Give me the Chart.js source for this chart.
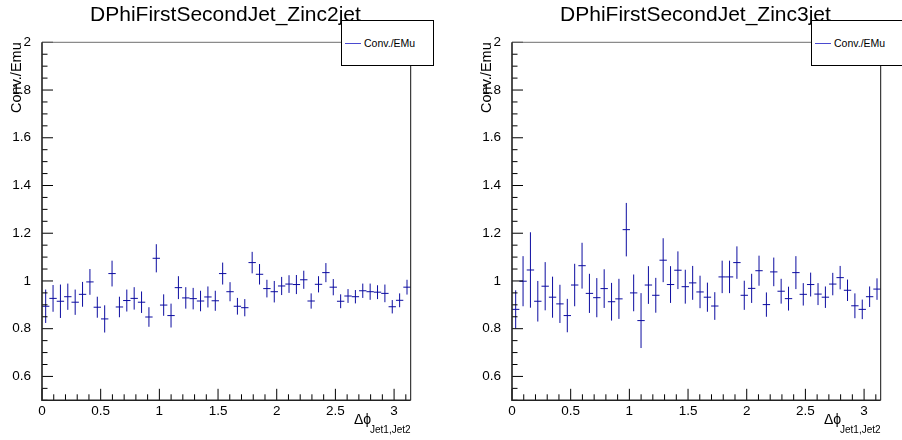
<!DOCTYPE html>
<html>
<head>
<meta charset="utf-8">
<script src="https://cdn.jsdelivr.net/npm/chart.js@4.4.1/dist/chart.umd.min.js"></script>
<style>
  html, body { margin: 0; padding: 0; background: #fff; }
  body { width: 902px; height: 440px; position: relative; overflow: hidden;
         font-family: "Liberation Sans", Arial, Helvetica, sans-serif; color: #000; }
  .pad { position: absolute; top: 0; width: 451px; height: 440px; }
  .pad canvas { position: absolute; left: 0; top: 0; }
  .title { position: absolute; left: 0; top: 3px; width: 451px; text-align: center;
           font-size: 21px; line-height: 21px; white-space: nowrap; }
  .legend { position: absolute; left: 341px; top: 20px; width: 91px; height: 44px;
            border: 1px solid #000; background: #fff; }
  .legend .swatch { position: absolute; left: 3px; top: 22px; width: 16px; height: 1px; background: #4a4ad0; }
  .legend .label { position: absolute; left: 22px; top: 16px; font-size: 10.5px; line-height: 12px;
                   white-space: nowrap; color: #000; }
  .xtitle-main { position: absolute; left: 354px; top: 412px; font-size: 14px; line-height: 15px; }
  .xtitle-sub { position: absolute; left: 370px; top: 424.5px; font-size: 10px; line-height: 10px; white-space: nowrap; }
</style>
</head>
<body>
<div class="pad" style="left:0">
  <canvas id="chartZinc2" width="451" height="440"></canvas>
  <div class="legend"><span class="swatch"></span><span class="label">Conv./EMu</span></div>
  <div class="title">DPhiFirstSecondJet_Zinc2jet</div>
  <div class="xtitle-main">Δϕ</div>
  <div class="xtitle-sub">Jet1,Jet2</div>
</div>
<div class="pad" style="left:470px">
  <canvas id="chartZinc3" width="451" height="440"></canvas>
  <div class="legend"><span class="swatch"></span><span class="label">Conv./EMu</span></div>
  <div class="title">DPhiFirstSecondJet_Zinc3jet</div>
  <div class="xtitle-main">Δϕ</div>
  <div class="xtitle-sub">Jet1,Jet2</div>
</div>
<script>
// 50 bins over [0, pi]
const nBins = 50;
const phiMax = Math.PI;

const xTickLabels = [0, 0.5, 1, 1.5, 2, 2.5, 3];
const yTickLabels = [0.6, 0.8, 1, 1.2, 1.4, 1.6, 1.8, 2];

// Zinc2jet ratio Conv./EMu per bin, and its error
const zinc2Values = [0.894, 0.927, 0.915, 0.934, 0.911, 0.944, 0.996, 0.890, 0.841, 1.031,
                     0.891, 0.918, 0.927, 0.911, 0.849, 1.095, 0.899, 0.855, 0.972, 0.929,
                     0.926, 0.916, 0.933, 0.917, 1.031, 0.955, 0.894, 0.888, 1.077, 1.028,
                     0.968, 0.955, 0.979, 0.987, 0.985, 1.005, 0.916, 0.986, 1.035, 0.974,
                     0.915, 0.937, 0.934, 0.959, 0.955, 0.953, 0.948, 0.892, 0.919, 0.974];
const zinc2Errors = [0.070, 0.056, 0.070, 0.055, 0.053, 0.052, 0.054, 0.044, 0.057, 0.054,
                     0.043, 0.046, 0.047, 0.045, 0.041, 0.059, 0.045, 0.050, 0.048, 0.045,
                     0.045, 0.043, 0.044, 0.042, 0.046, 0.040, 0.035, 0.036, 0.045, 0.043,
                     0.037, 0.045, 0.038, 0.037, 0.040, 0.038, 0.032, 0.034, 0.040, 0.034,
                     0.029, 0.029, 0.028, 0.030, 0.034, 0.029, 0.037, 0.028, 0.029, 0.031];

// Zinc3jet
const zinc3Values = [0.881, 0.999, 1.046, 0.915, 0.978, 0.932, 0.904, 0.855, 0.983, 1.064,
                     0.948, 0.930, 0.968, 0.913, 0.925, 1.215, 0.950, 0.834, 0.983, 0.940,
                     1.087, 0.985, 1.045, 0.976, 0.992, 0.954, 0.932, 0.895, 1.017, 1.017,
                     1.077, 0.940, 0.969, 1.043, 0.901, 1.038, 0.957, 0.926, 1.035, 0.944,
                     0.985, 0.945, 0.932, 0.987, 1.014, 0.961, 0.896, 0.881, 0.934, 0.966];
const zinc3Errors = [0.080, 0.105, 0.158, 0.085, 0.101, 0.086, 0.080, 0.070, 0.089, 0.096,
                     0.082, 0.082, 0.081, 0.079, 0.084, 0.112, 0.077, 0.115, 0.079, 0.073,
                     0.092, 0.077, 0.079, 0.071, 0.071, 0.068, 0.061, 0.058, 0.068, 0.068,
                     0.068, 0.061, 0.061, 0.063, 0.051, 0.060, 0.052, 0.050, 0.069, 0.047,
                     0.050, 0.046, 0.045, 0.047, 0.049, 0.045, 0.052, 0.041, 0.043, 0.045];

const binWidth = phiMax / nBins;
const binCenters = zinc2Values.map((_, i) => (i + 0.5) * binWidth);

const FONT = '"Liberation Sans", Arial, Helvetica, sans-serif';
const markerColor = '#0c0ca0';

// vertical error bar + horizontal bin-width bar for every bin, gaps in between
function errorBarPoints(values, errors) {
    const pts = [];
    values.forEach((v, i) => {
        const c = binCenters[i];
        pts.push({ x: c, y: v - errors[i] }, { x: c, y: v + errors[i] }, { x: c, y: null });
        pts.push({ x: c - binWidth / 2, y: v }, { x: c + binWidth / 2, y: v }, { x: c, y: null });
    });
    return pts;
}

// ROOT-like frame with inward ticks
const rootFrame = {
    id: 'rootFrame',
    afterDatasetsDraw(chart) {
        const { ctx, chartArea: a, scales: { x, y } } = chart;
        ctx.save();
        ctx.lineWidth = 1;
        ctx.strokeStyle = '#000';
        ctx.beginPath();
        for (let k = 0; k <= 30; k++) {
            const py = y.getPixelForValue(0.5 + k * 0.05);
            const len = (k % 4 === 2) ? 11 : 5.5;
            ctx.moveTo(a.left, py);
            ctx.lineTo(a.left + len, py);
        }
        for (let k = 0; k <= 31; k++) {
            const px = x.getPixelForValue(k * 0.1);
            const len = (k % 5 === 0) ? 11.5 : 6;
            ctx.moveTo(px, a.bottom);
            ctx.lineTo(px, a.bottom - len);
        }
        ctx.stroke();

        ctx.strokeStyle = '#6e6e6e';
        ctx.beginPath();
        ctx.moveTo(a.left, a.top);
        ctx.lineTo(a.right, a.top);
        ctx.stroke();

        ctx.strokeStyle = '#111';
        ctx.beginPath();
        ctx.moveTo(a.right, a.top);
        ctx.lineTo(a.right, a.bottom);
        ctx.stroke();

        ctx.lineWidth = 1.6;
        ctx.strokeStyle = '#222';
        ctx.beginPath();
        ctx.moveTo(a.left, a.top);
        ctx.lineTo(a.left, a.bottom);
        ctx.lineTo(a.right, a.bottom);
        ctx.stroke();
        ctx.restore();
    }
};

function makePanel(canvasId, values, errors) {
    const ctx = document.getElementById(canvasId).getContext('2d');
    return new Chart(ctx, {
        type: 'line',
        data: {
            datasets: [{
                label: 'Conv./EMu',
                data: errorBarPoints(values, errors),
                borderColor: markerColor,
                borderWidth: 1,
                pointRadius: 0,
                tension: 0,
                spanGaps: false,
                fill: false
            }]
        },
        options: {
            responsive: false,
            animation: false,
            events: [],
            layout: { padding: { top: 42.3, right: 40.3, left: 0, bottom: 0 } },
            plugins: {
                legend: { display: false },
                tooltip: { enabled: false },
                title: { display: false }
            },
            scales: {
                x: {
                    type: 'linear',
                    min: 0,
                    max: phiMax,
                    grid: { display: false },
                    border: { display: false },
                    afterBuildTicks: s => { s.ticks = xTickLabels.map(v => ({ value: v })); },
                    afterFit: s => { s.height = 39.7; },
                    ticks: {
                        autoSkip: false,
                        maxRotation: 0,
                        padding: -5,
                        color: '#000',
                        font: { size: 13.5, family: FONT },
                        callback: v => String(v)
                    }
                },
                y: {
                    type: 'linear',
                    min: 0.5,
                    max: 2,
                    grid: { display: false },
                    border: { display: false },
                    afterBuildTicks: s => { s.ticks = yTickLabels.map(v => ({ value: v })); },
                    afterFit: s => { s.width = 42; },
                    title: {
                        display: true,
                        text: 'Conv./Emu',
                        align: 'end',
                        color: '#000',
                        font: { size: 14.5, family: FONT },
                        padding: { top: 8.2, bottom: 0 }
                    },
                    ticks: {
                        autoSkip: false,
                        padding: 3,
                        color: '#000',
                        font: { size: 13.5, family: FONT },
                        callback: v => String(v)
                    }
                }
            }
        },
        plugins: [rootFrame]
    });
}

makePanel('chartZinc2', zinc2Values, zinc2Errors);
makePanel('chartZinc3', zinc3Values, zinc3Errors);
</script>
</body>
</html>
